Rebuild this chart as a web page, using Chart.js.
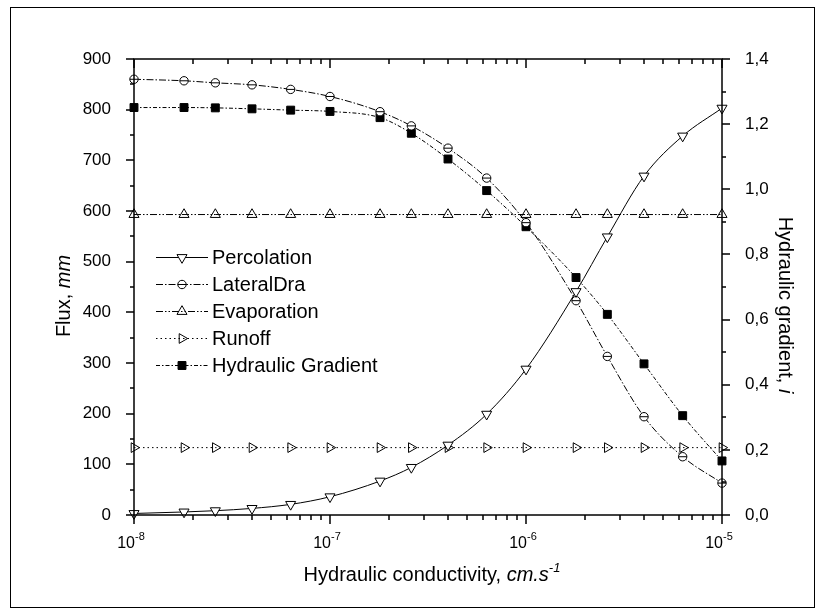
<!DOCTYPE html>
<html>
<head>
<meta charset="utf-8">
<script src="https://cdn.jsdelivr.net/npm/chart.js@4.4.1/dist/chart.umd.min.js"></script>
<style>
  html, body { margin: 0; padding: 0; background: #fff; }
  #chart { display: block; }
</style>
</head>
<body>
<canvas id="chart" width="827" height="613"></canvas>
<script>
// values
var conductivity = [1e-8, 1.8e-8, 2.6e-8, 4e-8, 6.3e-8, 1e-7, 1.8e-7, 2.6e-7, 4e-7, 6.3e-7, 1e-6, 1.8e-6, 2.6e-6, 4e-6, 6.3e-6, 1e-5];
var percolation = [3, 6, 8.5, 13, 21, 36, 67, 94, 138, 199, 288, 441, 549, 669, 748, 803];
var lateralDra = [860, 857, 853, 849, 840, 826, 796, 768, 724, 665, 577, 423, 313, 194, 115, 63];
var evaporation = [593, 593, 593, 593, 593, 593, 593, 593, 593, 593, 593, 593, 593, 593, 593, 593];
var runoff = [133, 133, 133, 133, 133, 133, 133, 133, 133, 133, 133, 133, 133, 133, 133, 133];
var hydraulicGradient = [1.251, 1.251, 1.250, 1.247, 1.243, 1.239, 1.220, 1.172, 1.093, 0.996, 0.885, 0.729, 0.616, 0.464, 0.305, 0.166];

var fluxTicks = [0, 100, 200, 300, 400, 500, 600, 700, 800, 900];
var gradientTicks = [0, 0.2, 0.4, 0.6, 0.8, 1.0, 1.2, 1.4];
var decadeExponents = [-8, -7, -6, -5];

var FONT = '"Liberation Sans", Arial, Helvetica, sans-serif';
Chart.defaults.font.family = FONT;

function pts(values) {
  return values.map(function (v, i) { return { x: conductivity[i], y: v }; });
}

function series(label, values, axis, dash, marker) {
  return Object.assign({
    label: label,
    data: pts(values),
    yAxisID: axis,
    borderColor: '#000',
    borderWidth: 1,
    borderDash: dash,
    pointBorderColor: '#000',
    pointBorderWidth: 1,
    cubicInterpolationMode: 'monotone',
    fill: false,
    clip: false
  }, marker);
}

var datasets = [
  series('Percolation', percolation, 'y', [],
    { pointStyle: 'triangle', pointRotation: 180, pointRadius: 5.8, pointBackgroundColor: '#fff' }),
  series('LateralDra', lateralDra, 'y', [7, 2, 1.5, 2],
    { pointStyle: 'circle', pointRotation: 0, pointRadius: 4.2, pointBackgroundColor: '#fff', barred: true }),
  series('Evaporation', evaporation, 'y', [7, 2, 1.5, 2, 1.5, 2],
    { pointStyle: 'triangle', pointRotation: 0, pointRadius: 5.8, pointBackgroundColor: 'rgba(0,0,0,0)' }),
  series('Runoff', runoff, 'y', [1.5, 3],
    { pointStyle: 'triangle', pointRotation: 90, pointRadius: 5.6, pointBackgroundColor: 'rgba(0,0,0,0)' }),
  series('Hydraulic Gradient', hydraulicGradient, 'y1', [4, 2, 1.5, 2],
    { pointStyle: 'rect', pointRotation: 0, pointRadius: 5.6, pointBackgroundColor: '#000' })
];

function drawMarker(ctx, ds, x, y) {
  ctx.save();
  ctx.lineWidth = 1;
  ctx.strokeStyle = '#000';
  ctx.fillStyle = ds.pointBackgroundColor;
  ctx.setLineDash([]);
  Chart.helpers.drawPoint(ctx, { pointStyle: ds.pointStyle, rotation: ds.pointRotation, radius: ds.pointRadius, borderWidth: 1 }, x, y);
  if (ds.barred) {
    ctx.beginPath();
    ctx.moveTo(x - ds.pointRadius, y); ctx.lineTo(x + ds.pointRadius, y);
    ctx.stroke();
  }
  ctx.restore();
}

function drawRich(ctx, parts, x, y, align) {
  // parts: [text, font, dy]
  var total = 0;
  parts.forEach(function (p) { ctx.font = p[1]; total += ctx.measureText(p[0]).width; });
  var cx = align === 'center' ? x - total / 2 : x;
  parts.forEach(function (p) {
    ctx.font = p[1];
    ctx.fillText(p[0], cx, y + (p[2] || 0));
    cx += ctx.measureText(p[0]).width;
  });
}

var frameAndText = {
  id: 'frameAndText',
  afterDatasetsDraw: function (chart) {
    // horizontal bar through the LateralDra circles
    var ctx = chart.ctx;
    chart.data.datasets.forEach(function (ds, k) {
      if (!ds.barred) return;
      ctx.save();
      ctx.strokeStyle = '#000';
      ctx.lineWidth = 1;
      ctx.beginPath();
      chart.getDatasetMeta(k).data.forEach(function (pt) {
        ctx.moveTo(pt.x - ds.pointRadius, pt.y); ctx.lineTo(pt.x + ds.pointRadius, pt.y);
      });
      ctx.stroke();
      ctx.restore();
    });
  },
  afterDraw: function (chart) {
    var ctx = chart.ctx, a = chart.chartArea;
    var sx = chart.scales.x, yl = chart.scales.y, yr = chart.scales.y1;
    var i, p;
    ctx.save();
    ctx.strokeStyle = '#000';
    ctx.fillStyle = '#000';

    // outer border
    ctx.lineWidth = 1;
    ctx.strokeRect(10.5, 7.5, 804, 600);

    // plot frame
    ctx.lineWidth = 1.5;
    ctx.strokeRect(a.left, a.top, a.right - a.left, a.bottom - a.top);

    ctx.beginPath();
    // left axis ticks
    for (i = 0; i < fluxTicks.length; i++) {
      p = Math.round(yl.getPixelForValue(fluxTicks[i]));
      ctx.moveTo(a.left, p); ctx.lineTo(a.left - 8, p);
      if (i < fluxTicks.length - 1) {
        p = Math.round(yl.getPixelForValue((fluxTicks[i] + fluxTicks[i + 1]) / 2));
        ctx.moveTo(a.left, p); ctx.lineTo(a.left - 4, p);
      }
    }
    // right axis ticks
    for (i = 0; i < gradientTicks.length; i++) {
      p = Math.round(yr.getPixelForValue(gradientTicks[i]));
      ctx.moveTo(a.right, p); ctx.lineTo(a.right + 8, p);
      if (i < gradientTicks.length - 1) {
        p = Math.round(yr.getPixelForValue((gradientTicks[i] + gradientTicks[i + 1]) / 2));
        ctx.moveTo(a.right, p); ctx.lineTo(a.right + 4, p);
      }
    }
    // log ticks, bottom outward and top inward
    for (i = 0; i < decadeExponents.length; i++) {
      var base = Math.pow(10, decadeExponents[i]);
      p = Math.round(sx.getPixelForValue(base));
      ctx.moveTo(p, a.bottom); ctx.lineTo(p, a.bottom + 9);
      ctx.moveTo(p, a.top); ctx.lineTo(p, a.top + 9);
      if (i === decadeExponents.length - 1) break;
      for (var m = 2; m <= 9; m++) {
        p = Math.round(sx.getPixelForValue(m * base));
        ctx.moveTo(p, a.bottom); ctx.lineTo(p, a.bottom + 5);
        ctx.moveTo(p, a.top); ctx.lineTo(p, a.top + 5);
      }
    }
    ctx.stroke();

    // x tick labels 10^n
    ctx.textBaseline = 'alphabetic';
    ctx.textAlign = 'left';
    decadeExponents.forEach(function (e) {
      var px = sx.getPixelForValue(Math.pow(10, e));
      drawRich(ctx, [['10', '16px ' + FONT, 0], [String(e), '11px ' + FONT, -8]], px - 3, a.bottom + 33, 'center');
    });

    // x axis title
    drawRich(ctx, [
      ['Hydraulic conductivity, ', '20px ' + FONT, 0],
      ['cm.s', 'italic 20px ' + FONT, 0],
      ['-1', 'italic 13px ' + FONT, -9]
    ], (a.left + a.right) / 2 + 4, 581, 'center');

    // left title
    ctx.save();
    ctx.translate(70, (a.top + a.bottom) / 2 + 9);
    ctx.rotate(-Math.PI / 2);
    drawRich(ctx, [['Flux, ', '20px ' + FONT, 0], ['mm', 'italic 20px ' + FONT, 0]], 0, 0, 'center');
    ctx.restore();

    // right title
    ctx.save();
    ctx.translate(779, (a.top + a.bottom) / 2 + 18);
    ctx.rotate(Math.PI / 2);
    drawRich(ctx, [['Hydraulic gradient, ', '20px ' + FONT, 0], ['i', 'italic 20px ' + FONT, 0]], 0, 0, 'center');
    ctx.restore();

    // legend
    ctx.textBaseline = 'middle';
    chart.data.datasets.forEach(function (ds, k) {
      var ly = 257 + k * 27;
      ctx.lineWidth = 1;
      ctx.setLineDash(ds.borderDash);
      ctx.beginPath();
      ctx.moveTo(156, ly + 0.5); ctx.lineTo(208, ly + 0.5);
      ctx.stroke();
      ctx.setLineDash([]);
      drawMarker(ctx, ds, 182, ly + 0.5);
      ctx.fillStyle = '#000';
      ctx.font = '20px ' + FONT;
      ctx.fillText(ds.label, 212, ly + 1);
    });
    ctx.restore();
  }
};

new Chart(document.getElementById('chart'), {
  type: 'line',
  data: { datasets: datasets },
  options: {
    responsive: false,
    animation: false,
    layout: { padding: { top: 59, left: 0, right: 0, bottom: 0 } },
    plugins: { legend: { display: false }, tooltip: { enabled: false } },
    scales: {
      x: {
        type: 'logarithmic',
        min: 1e-8,
        max: 1e-5,
        ticks: { display: false },
        grid: { display: false },
        border: { display: false },
        afterFit: function (s) { s.height = 98; }
      },
      y: {
        position: 'left',
        min: 0,
        max: 900,
        afterBuildTicks: function (s) { s.ticks = fluxTicks.map(function (v) { return { value: v }; }); },
        ticks: { color: '#000', font: { size: 17 }, padding: 15 },
        grid: { display: false },
        border: { display: false },
        afterFit: function (s) { s.width = 134; }
      },
      y1: {
        position: 'right',
        min: 0,
        max: 1.4,
        afterBuildTicks: function (s) { s.ticks = gradientTicks.map(function (v) { return { value: v }; }); },
        ticks: {
          color: '#000',
          font: { size: 17 },
          padding: 15,
          callback: function (v) { return v.toFixed(1).replace('.', ','); }
        },
        grid: { display: false },
        border: { display: false },
        afterFit: function (s) { s.width = 105; }
      }
    }
  },
  plugins: [frameAndText]
});
</script>
</body>
</html>
